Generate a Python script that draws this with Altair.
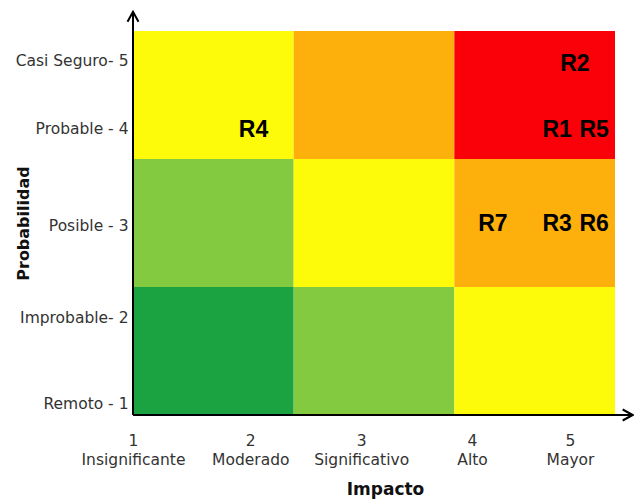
import altair as alt
import pandas as pd

# ---- data ----
impact_labels = [["1", "Insignificante"], ["2", "Moderado"], ["3", "Significativo"],
                 ["4", "Alto"], ["5", "Mayor"]]
impact_pos = [0, 0.73, 1.42, 2.11, 2.72]          # where each impact label sits (grid units)
prob_labels = ["Remoto - 1", "Improbable- 2", "Posible - 3", "Probable - 4", "Casi Seguro- 5"]
prob_pos = [0.09, 0.76, 1.48, 2.24, 2.77]

cell_col = [0, 1, 2, 0, 1, 2, 0, 1, 2]
cell_row = [0, 0, 0, 1, 1, 1, 2, 2, 2]
cell_level = [1, 2, 3, 2, 3, 4, 3, 4, 5]
level_colors = ["#1aa340", "#84ca41", "#fefb0a", "#fdb00b", "#fa0008"]

risk_names = ["R1", "R2", "R3", "R4", "R5", "R6", "R7"]
risk_x = [2.64, 2.75, 2.64, 0.75, 2.87, 2.87, 2.24]
risk_y = [2.23, 2.74, 1.49, 2.23, 2.23, 1.49, 1.49]

axis_end_x = 3.11
axis_end_y = 3.15

FONT = "DejaVu Sans"

cells = pd.DataFrame({
    "x0": cell_col, "x1": [c + 1 for c in cell_col],
    "y0": cell_row, "y1": [r + 1 for r in cell_row],
    "level": cell_level,
})
risks = pd.DataFrame({"name": risk_names, "x": risk_x, "y": risk_y})


def expr_for(values, labels):
    parts = []
    for v, lab in zip(values, labels):
        if isinstance(lab, list):
            s = "[" + ",".join("'" + t + "'" for t in lab) + "]"
        else:
            s = "'" + lab + "'"
        parts.append(f"abs(datum.value - {v}) < 0.001 ? {s} : ")
    return "".join(parts) + "''"


xs = alt.Scale(domain=[0, 3], nice=False, zero=False)
ys = alt.Scale(domain=[0, 3], nice=False, zero=False)

rects = alt.Chart(cells).mark_rect(stroke=None).encode(
    x=alt.X("x0:Q", scale=xs, axis=alt.Axis(
        values=impact_pos, labelExpr=expr_for(impact_pos, impact_labels),
        domain=False, ticks=False, grid=False, labelFlush=False, labelOverlap=False,
        labelBound=False, labelPadding=18, labelFontSize=15.5, labelFont=FONT,
        labelColor="#333333", labelLineHeight=19, labelAlign="center", labelBaseline="top",
        title="Impacto", titleFont=FONT, titleFontSize=17, titleFontWeight="bold",
        titleColor="#111111", titleX=252, titleY=74, titleBaseline="middle",
        titleAlign="center")),
    x2="x1:Q",
    y=alt.Y("y0:Q", scale=ys, axis=alt.Axis(
        values=prob_pos, labelExpr=expr_for(prob_pos, prob_labels),
        domain=False, ticks=False, grid=False, labelFlush=False, labelOverlap=False,
        labelBound=False, labelPadding=5, labelFontSize=15.5, labelFont=FONT,
        labelColor="#333333", labelAlign="right", labelBaseline="middle",
        title="Probabilidad", titleFont=FONT, titleFontSize=16, titleFontWeight="bold",
        titleColor="#111111", titleX=-110, titleY=192, titleAngle=270,
        titleAlign="center", titleBaseline="middle")),
    y2="y1:Q",
    color=alt.Color("level:O", scale=alt.Scale(domain=[1, 2, 3, 4, 5], range=level_colors),
                    legend=None),
)

labels = alt.Chart(risks).mark_text(
    font="Liberation Sans", fontWeight="bold", fontSize=23, color="#000000",
    align="center", baseline="middle").encode(
    x=alt.X("x:Q", scale=xs), y=alt.Y("y:Q", scale=ys), text="name:N")

axes_df = pd.DataFrame({"x": [0, 0], "x2": [axis_end_x, 0], "y": [0, 0], "y2": [0, axis_end_y]})
axis_lines = alt.Chart(axes_df).mark_rule(color="#000000", strokeWidth=2).encode(
    x=alt.X("x:Q", scale=xs), x2="x2:Q", y=alt.Y("y:Q", scale=ys), y2="y2:Q")

arrow_r = alt.Chart(pd.DataFrame({"x": [axis_end_x], "y": [0]})).mark_point(
    shape="M -1 -0.55 L 0 0 L -1 0.55", size=400, filled=False, stroke="#000000",
    strokeWidth=2, opacity=1).encode(x=alt.X("x:Q", scale=xs), y=alt.Y("y:Q", scale=ys))
arrow_u = alt.Chart(pd.DataFrame({"x": [0], "y": [axis_end_y]})).mark_point(
    shape="M -0.55 1 L 0 0 L 0.55 1", size=400, filled=False, stroke="#000000",
    strokeWidth=2, opacity=1).encode(x=alt.X("x:Q", scale=xs), y=alt.Y("y:Q", scale=ys))

chart = alt.layer(rects, labels, axis_lines, arrow_r, arrow_u).properties(
    width=482, height=384, autosize="none",
    padding={"left": 125, "top": 23, "right": 19, "bottom": 84},
).configure_view(stroke=None)

chart.save("out.html", embed_options={"renderer": "svg", "actions": False})
